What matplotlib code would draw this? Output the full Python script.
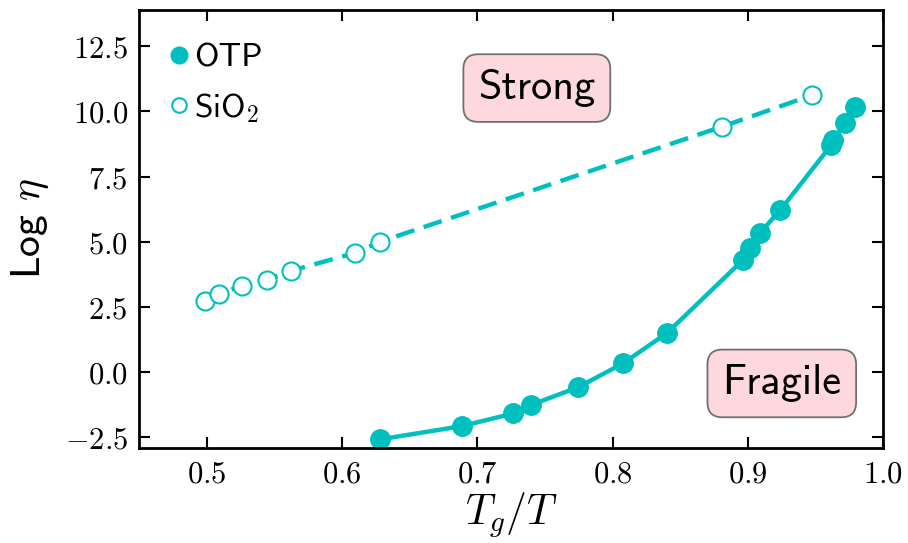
import matplotlib
matplotlib.use("Agg")
import matplotlib.pyplot as plt
from matplotlib.lines import Line2D
from matplotlib.ticker import FuncFormatter

plt.rcParams['mathtext.fontset'] = 'cm'

# Data
sio2_x = [0.4988, 0.5089, 0.526, 0.5446, 0.562, 0.610, 0.628, 0.881, 0.947]
sio2_y = [2.73, 2.98, 3.30, 3.53, 3.87, 4.57, 4.99, 9.42, 10.62]

otp_x = [0.628, 0.6887, 0.7267, 0.7395, 0.7744, 0.8077, 0.8405, 0.8964, 0.9013,
         0.9087, 0.924, 0.9617, 0.9629, 0.972, 0.9789]
otp_y = [-2.6, -2.09, -1.6, -1.28, -0.6, 0.32, 1.5, 4.3, 4.75,
         5.32, 6.22, 8.72, 8.91, 9.55, 10.19]

series_labels = ["OTP", r"SiO$_2$"]
xticks = [0.5, 0.6, 0.7, 0.8, 0.9, 1.0]
yticks = [-2.5, 0.0, 2.5, 5.0, 7.5, 10.0, 12.5]

color = 'c'
fig = plt.figure(figsize=(9.08, 5.43), dpi=100)
ax = fig.add_axes([0.153, 0.175, 0.8198, 0.8066])

ax.plot(sio2_x, sio2_y, '--', color=color, lw=3.2, dashes=(4.3, 2.2),
        marker='o', ms=13, mfc='white', mec=color, mew=1.5)
ax.plot(otp_x, otp_y, '-', color=color, lw=3.2,
        marker='o', ms=14, mfc=color, mec=color)

ax.set_xlim(0.45, 1.0)
ax.set_ylim(-2.93, 13.9)
ax.set_xticks(xticks)
ax.set_yticks(yticks)

def fmt(v, pos):
    s = f"{v:.1f}"
    if v < 0:
        s = r"-" + s[1:]
    return r"$%s$" % s

ax.xaxis.set_major_formatter(FuncFormatter(fmt))
ax.yaxis.set_major_formatter(FuncFormatter(fmt))
ax.tick_params(direction='in', which='both', top=True, right=True,
               length=8, width=1.5, labelsize=22, pad=8)
for sp in ax.spines.values():
    sp.set_linewidth(2)

ax.set_xlabel(r"$T_g/T$", fontsize=30, labelpad=2)
ax.set_ylabel(r"Log $\eta$", fontsize=30, family='cmss10', labelpad=10)

bbox = dict(boxstyle='round,pad=0.35', facecolor='#fdd9df', edgecolor='#707070', lw=1.3)
ax.text(0.744, 10.9, "Strong", fontsize=30.5, family='cmss10', ha='center', va='center', bbox=bbox)
ax.text(0.925, -0.45, "Fragile", fontsize=30.5, family='cmss10', ha='center', va='center', bbox=bbox)

handles = [Line2D([], [], ls='none', marker='o', ms=12, mfc=color, mec=color),
           Line2D([], [], ls='none', marker='o', ms=10.5, mfc='white', mec=color, mew=1.5)]
ax.legend(handles, series_labels, loc='upper left', bbox_to_anchor=(-0.011, 1.0),
          frameon=False, prop={'family': 'cmss10', 'size': 24}, handletextpad=0.0,
          handlelength=0.9, borderaxespad=0.6, labelspacing=0.55)

fig.savefig("out.png", dpi=100)
